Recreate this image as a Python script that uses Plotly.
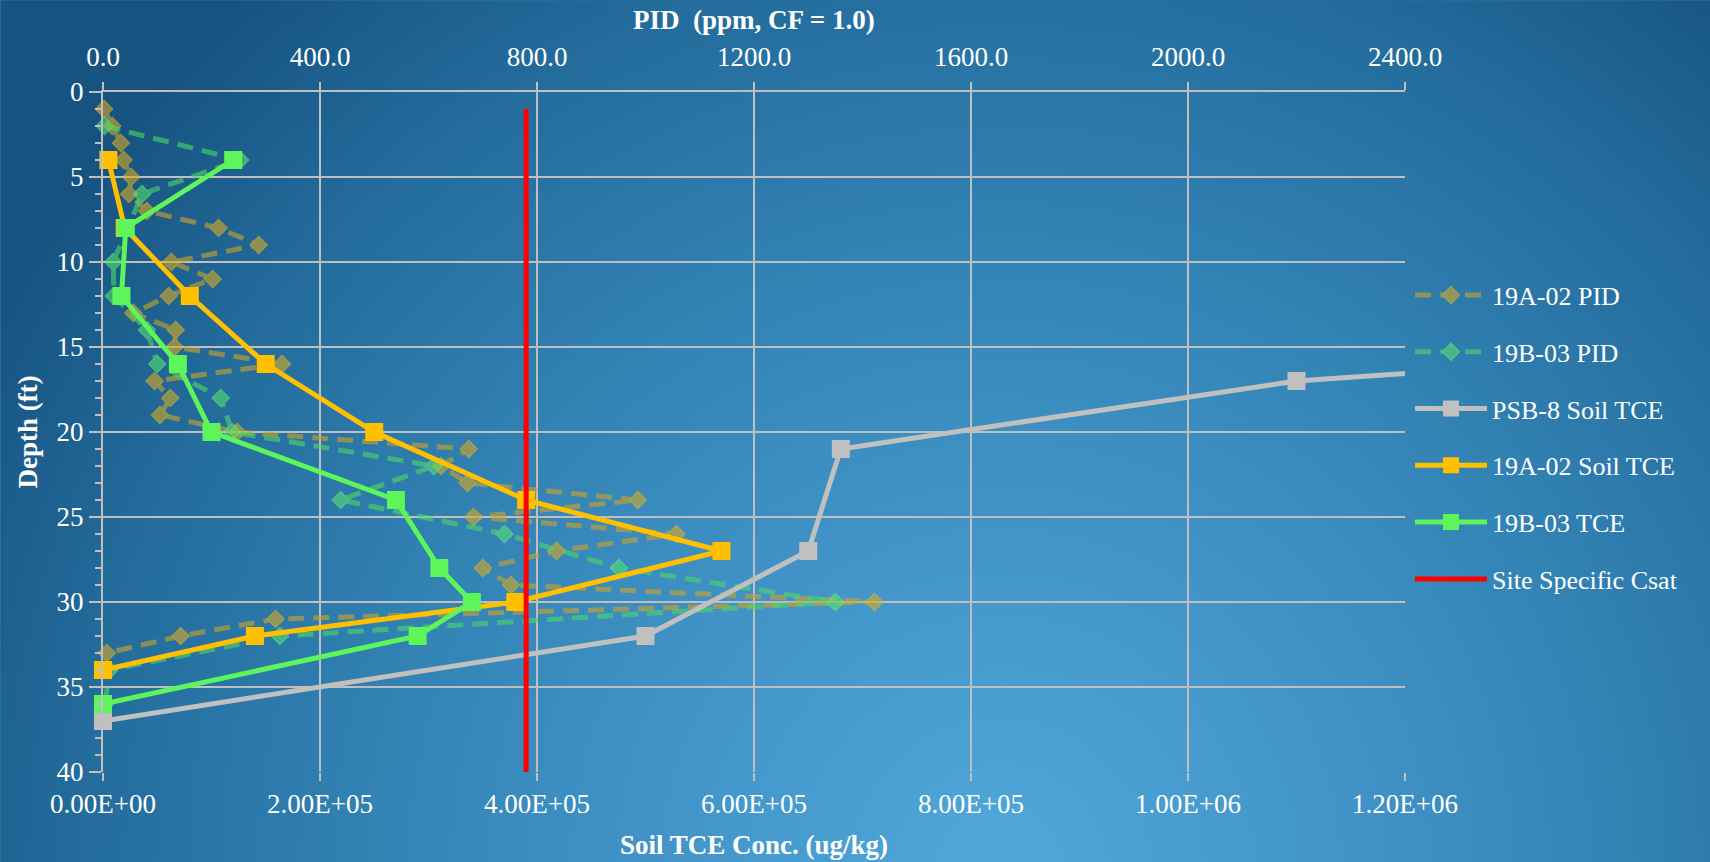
import base64
import plotly.graph_objects as go

# ---- PID readings (ppm, CF = 1.0) by depth (ft) ----
pid_depth_19a02 = [1, 2, 3, 4, 5, 6, 7, 8, 9, 10, 11, 12, 13, 14, 15, 16, 17,
                   18, 19, 20, 21, 22, 23, 24, 25, 26, 27, 28, 29, 30, 31, 32, 33]
pid_19a02 = [2, 17, 33, 38, 52, 48, 81, 213, 287, 126, 202, 121, 56, 134, 132, 330, 95,
             124, 105, 247, 674, 623, 672, 986, 683, 1057, 836, 700, 752, 1422, 318, 143, 7]

pid_depth_19b03 = [2, 4, 6, 10, 12, 14, 16, 18, 20, 22, 24, 26, 28, 30, 32, 34, 36]
pid_19b03 = [3, 253, 72, 19, 20, 81, 100, 217, 238, 610, 438, 740, 951, 1350, 326, 12, 4]

# ---- Soil TCE concentrations (ug/kg) by depth (ft) ----
tce_depth_psb8 = [13, 17, 21, 27, 32, 37]
tce_psb8 = [2000000, 1100000, 680000, 650000, 500000, 0]

tce_depth_19a02 = [4, 8, 12, 16, 20, 24, 27, 30, 32, 34]
tce_19a02 = [5000, 20000, 80000, 150000, 250000, 390000, 570000, 380000, 140000, 0]

tce_depth_19b03 = [4, 8, 12, 16, 20, 24, 28, 30, 32, 36]
tce_19b03 = [120000, 21000, 17000, 69000, 100000, 270000, 310000, 340000, 290000, 0]

csat_value = 390000
csat_depths = [1, 40]

# ---- axis ticks ----
pid_ticks = [0, 400, 800, 1200, 1600, 2000, 2400]
tce_ticks = [0, 200000, 400000, 600000, 800000, 1000000, 1200000]
tce_tick_text = ["0.00E+00", "2.00E+05", "4.00E+05", "6.00E+05", "8.00E+05", "1.00E+06", "1.20E+06"]
depth_ticks = [0, 5, 10, 15, 20, 25, 30, 35, 40]

W, H = 1710, 862
ML, MR, MT, MB = 102.5, 305.3, 91.7, 90.3
PW, PH = W - ML - MR, H - MT - MB

SERIF = "Liberation Serif, DejaVu Serif, serif"
GRID = "#bfbfbf"

fig = go.Figure()

# PID profiles (dashed, translucent) on the top axis
fig.add_trace(go.Scatter(
    x=pid_19a02, y=pid_depth_19a02, name="19A-02 PID", xaxis="x", yaxis="y",
    mode="lines+markers", opacity=0.6, legendgroup="a", cliponaxis=False,
    line=dict(color="#cfa428", width=5, dash="16px,9px"),
    marker=dict(symbol="diamond", size=13, color="#d9aa22",
                line=dict(color="#e8b820", width=1.5)),
))
fig.add_trace(go.Scatter(
    x=pid_19b03, y=pid_depth_19b03, name="19B-03 PID", xaxis="x", yaxis="y",
    mode="lines+markers", opacity=0.6, legendgroup="b", cliponaxis=False,
    line=dict(color="#4cd964", width=5, dash="16px,9px"),
    marker=dict(symbol="diamond", size=13, color="#55e06a",
                line=dict(color="#66ee7a", width=1.5)),
))

# Soil TCE profiles on the bottom axis
fig.add_trace(go.Scatter(
    x=tce_psb8, y=tce_depth_psb8, name="PSB-8 Soil TCE", xaxis="x2", yaxis="y",
    mode="lines+markers", legendgroup="c", cliponaxis=False,
    line=dict(color="#c0c0c0", width=5),
    marker=dict(symbol="square", size=18, color="#c0c0c0"),
))
fig.add_trace(go.Scatter(
    x=tce_19a02, y=tce_depth_19a02, name="19A-02 Soil TCE", xaxis="x2", yaxis="y",
    mode="lines+markers", legendgroup="d", cliponaxis=False,
    line=dict(color="#ffc000", width=5),
    marker=dict(symbol="square", size=18, color="#ffc000"),
))
fig.add_trace(go.Scatter(
    x=tce_19b03, y=tce_depth_19b03, name="19B-03 TCE", xaxis="x2", yaxis="y",
    mode="lines+markers", legendgroup="e", cliponaxis=False,
    line=dict(color="#5ef55a", width=5),
    marker=dict(symbol="square", size=18, color="#5ef55a"),
))
fig.add_trace(go.Scatter(
    x=[csat_value, csat_value], y=csat_depths, name="Site Specific Csat",
    xaxis="x2", yaxis="y", mode="lines", legendgroup="f",
    line=dict(color="#ff0000", width=5),
))

# gradient backdrop
svg = f"""<svg xmlns='http://www.w3.org/2000/svg' width='{W}' height='{H}' viewBox='0 0 {W} {H}'>
<defs><radialGradient id='g' gradientUnits='userSpaceOnUse' cx='1000' cy='870' r='1150'>
<stop offset='0' stop-color='#50a8da'/>
<stop offset='0.3' stop-color='#4294c8'/>
<stop offset='0.55' stop-color='#3282b4'/>
<stop offset='0.8' stop-color='#236c9c'/>
<stop offset='1' stop-color='#175381'/>
</radialGradient></defs>
<rect width='{W}' height='{H}' fill='url(#g)'/></svg>"""
bg_src = "data:image/svg+xml;base64," + base64.b64encode(svg.encode()).decode()

tick_font = dict(family=SERIF, size=27, color="white")
title_font = dict(family=SERIF, size=27, color="white")

fig.update_layout(
    width=W, height=H, autosize=False,
    margin=dict(l=ML, r=MR, t=MT, b=MB, pad=0),
    paper_bgcolor="#2a75a6", plot_bgcolor="rgba(0,0,0,0)",
    images=[dict(source=bg_src, xref="paper", yref="paper",
                 x=-ML / PW, y=1 + MT / PH, sizex=W / PW, sizey=H / PH,
                 xanchor="left", yanchor="top", sizing="stretch", layer="below")],
    xaxis=dict(
        side="top", range=[0, 2400], tickvals=pid_ticks, tickformat=".1f",
        showgrid=False, zeroline=False, showline=True, linecolor=GRID, linewidth=2,
        ticks="outside", ticklen=8, tickcolor=GRID, tickwidth=1.5,
        ticklabelstandoff=5, tickfont=tick_font, anchor="y",
    ),
    xaxis2=dict(
        overlaying="x", side="bottom", range=[0, 1200000], tickvals=tce_ticks,
        ticktext=tce_tick_text, showgrid=True, gridcolor=GRID, gridwidth=2,
        zeroline=False, showline=False,
        ticks="outside", ticklen=8, tickcolor=GRID, tickwidth=1.5,
        tickfont=tick_font, anchor="y",
    ),
    yaxis=dict(
        range=[40, 0], tickvals=depth_ticks, showgrid=True, gridcolor=GRID, gridwidth=2,
        zeroline=False, showline=True, linecolor=GRID, linewidth=2,
        ticks="outside", ticklen=12, tickcolor=GRID, tickwidth=1.5,
        minor=dict(dtick=1, ticks="outside", ticklen=6, tickcolor=GRID, showgrid=False),
        tickfont=tick_font,
    ),
    legend=dict(
        x=1.0 + 5 / PW, xanchor="left", y=0.736, yanchor="top",
        font=dict(family=SERIF, size=26, color="white"),
        bgcolor="rgba(0,0,0,0)", tracegroupgap=20, itemwidth=72,
    ),
    showlegend=True,
    annotations=[
        dict(text="<b>PID  (ppm, CF = 1.0)</b>", xref="paper", yref="paper",
             x=0.5, y=1 + (MT - 20) / PH, xanchor="center", yanchor="middle",
             showarrow=False, font=title_font),
        dict(text="<b>Soil TCE Conc. (ug/kg)</b>", xref="paper", yref="paper",
             x=0.5, y=-(845 - (MT + PH)) / PH, xanchor="center", yanchor="middle",
             showarrow=False, font=title_font),
        dict(text="<b>Depth (ft)</b>", xref="paper", yref="paper",
             x=-(ML - 27) / PW, y=0.5, xanchor="center", yanchor="middle",
             textangle=-90, showarrow=False, font=title_font),
    ],
)

fig.write_html("out.html")
